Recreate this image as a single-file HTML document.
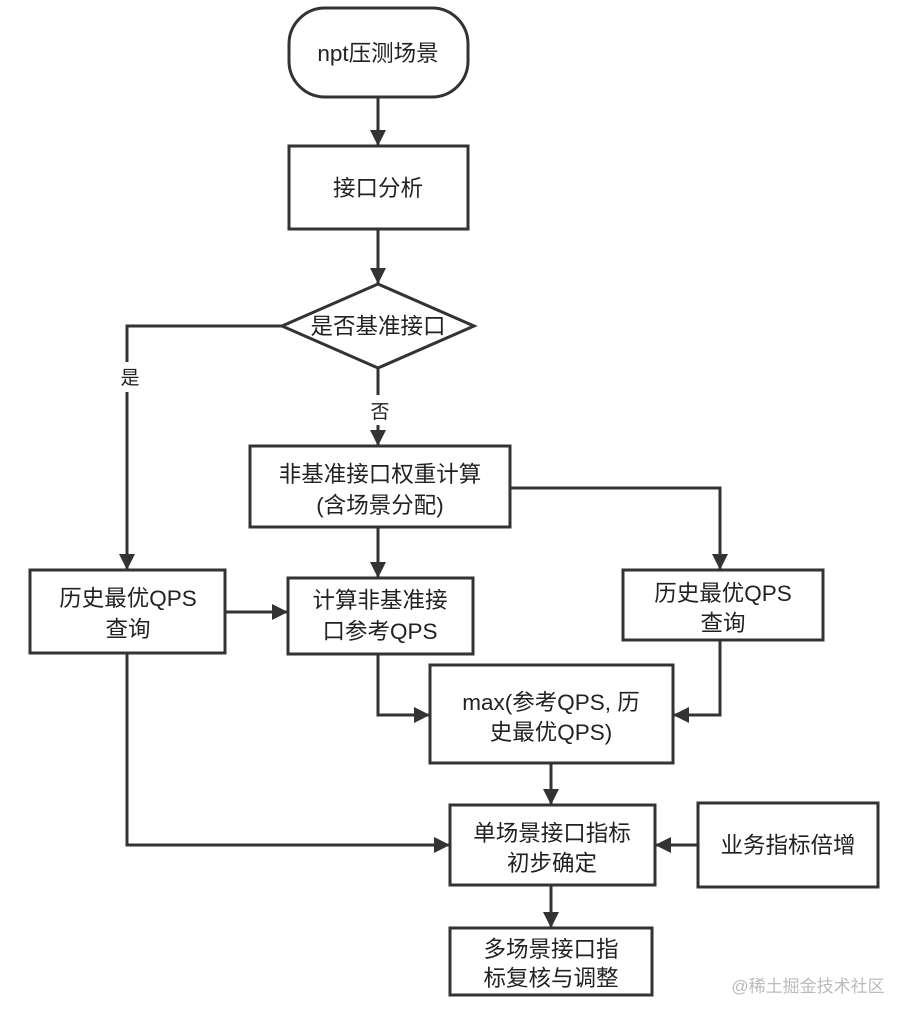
<!DOCTYPE html>
<html><head><meta charset="utf-8"><style>
html,body{margin:0;padding:0;background:#fff;}
svg{display:block;}
text{font-family:"Liberation Sans","Noto Sans CJK SC",sans-serif;font-size:22.5px;fill:#222;text-anchor:middle;}
</style></head><body>
<svg width="912" height="1022" viewBox="0 0 912 1022" xmlns="http://www.w3.org/2000/svg">
<defs><marker id="b" viewBox="0 0 16 16" markerWidth="16" markerHeight="16" refX="16" refY="8" orient="auto" markerUnits="userSpaceOnUse"><path d="M0,0 L16,8 L0,16 Z" fill="#333"/></marker></defs>
<g fill="none" stroke="#333" stroke-width="3">
<rect x="289" y="8" width="179" height="89" rx="36"/>
<rect x="289" y="146" width="179" height="83"/>
<path d="M282,326 L378,284 L474,326 L378,368 Z"/>
<rect x="250" y="446" width="260" height="81"/>
<rect x="30" y="570" width="195" height="83"/>
<rect x="288" y="578" width="185" height="76"/>
<rect x="623" y="570" width="200" height="70"/>
<rect x="430" y="665" width="243" height="98"/>
<rect x="450" y="805" width="205" height="80"/>
<rect x="698" y="803" width="180" height="84"/>
<rect x="450" y="928" width="202" height="67"/>
<g marker-end="url(#b)">
<path d="M378,97 V146"/>
<path d="M378,229 V284"/>
<path d="M282,326 H127 V362 M127,392 V570"/>
<path d="M378,368 V395 M378,425 V446"/>
<path d="M378,527 V578"/>
<path d="M510,488 H720 V570"/>
<path d="M225,612 H288"/>
<path d="M378,654 V715 H430"/>
<path d="M720,640 V715 H673"/>
<path d="M551,763 V805"/>
<path d="M127,653 V845 H450"/>
<path d="M698,845 H655"/>
<path d="M551,885 V928"/>
</g>
</g>
<text x="378" y="61">npt压测场景</text>
<text x="378" y="196">接口分析</text>
<text x="378" y="334">是否基准接口</text>
<text x="130" y="384" style="font-size:19px">是</text>
<text x="380" y="418" style="font-size:19px">否</text>
<text x="380" y="482">非基准接口权重计算</text>
<text x="380" y="513">(含场景分配)</text>
<text x="128" y="606">历史最优QPS</text>
<text x="128" y="637">查询</text>
<text x="380" y="608">计算非基准接</text>
<text x="380" y="639">口参考QPS</text>
<text x="723" y="601">历史最优QPS</text>
<text x="723" y="631">查询</text>
<text x="551" y="710">max(参考QPS, 历</text>
<text x="551" y="740">史最优QPS)</text>
<text x="552" y="841">单场景接口指标</text>
<text x="552" y="871">初步确定</text>
<text x="788" y="853">业务指标倍增</text>
<text x="551" y="957">多场景接口指</text>
<text x="551" y="986">标复核与调整</text>
<text x="808" y="992" style="font-size:17px;fill:#bbb">@稀土掘金技术社区</text>
</svg>
</body></html>
